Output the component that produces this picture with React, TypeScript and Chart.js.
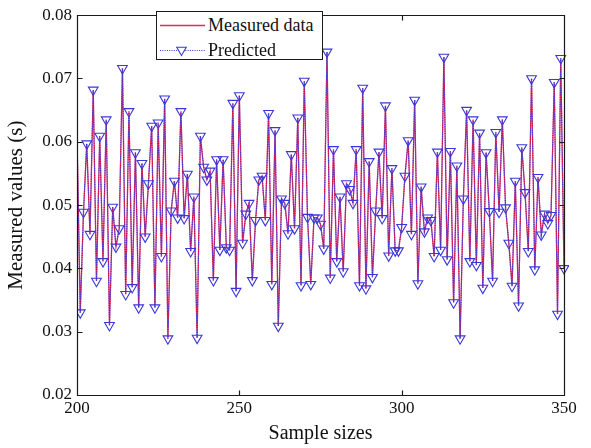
import React, { useEffect, useRef } from "react";
import { Chart, registerables } from "chart.js";

Chart.register(...registerables);

const FONT = "'Liberation Serif', 'Times New Roman', serif";
const RED = "#e02a62";
const BLUE = "#3838d8";

const xTitle = "Sample sizes";
const yTitle = "Measured values (s)";
const seriesLabels = ["Measured data", "Predicted"];

const firstSample = 200;
const xTicks = [200, 250, 300, 350];
const yTicks = [0.02, 0.03, 0.04, 0.05, 0.06, 0.07, 0.08];

// sample 200 .. 351 (351 lies just outside the axes and is clipped)
const measuredValues = [
  0.0611, 0.0330, 0.0489, 0.0597, 0.0454, 0.0682, 0.0380, 0.0609, 0.0411, 0.0635,
  0.0310, 0.0497, 0.0434, 0.0463, 0.0716, 0.0359, 0.0648, 0.0370, 0.0583, 0.0338,
  0.0566, 0.0450, 0.0534, 0.0625, 0.0338, 0.0630, 0.0419, 0.0668, 0.0289, 0.0491,
  0.0538, 0.0480, 0.0648, 0.0479, 0.0549, 0.0427, 0.0513, 0.0290, 0.0609, 0.0560,
  0.0540, 0.0554, 0.0381, 0.0572, 0.0429, 0.0572, 0.0433, 0.0429, 0.0661, 0.0364,
  0.0673, 0.0440, 0.0486, 0.0503, 0.0381, 0.0476, 0.0540, 0.0546, 0.0476, 0.0645,
  0.0375, 0.0618, 0.0309, 0.0510, 0.0503, 0.0455, 0.0580, 0.0463, 0.0638, 0.0373,
  0.0696, 0.0481, 0.0375, 0.0480, 0.0480, 0.0470, 0.0431, 0.0742, 0.0385, 0.0588,
  0.0411, 0.0513, 0.0395, 0.0534, 0.0525, 0.0503, 0.0588, 0.0373, 0.0685, 0.0368,
  0.0569, 0.0386, 0.0491, 0.0584, 0.0479, 0.0657, 0.0420, 0.0558, 0.0428, 0.0428,
  0.0465, 0.0546, 0.0602, 0.0454, 0.0666, 0.0376, 0.0529, 0.0458, 0.0480, 0.0476,
  0.0419, 0.0584, 0.0429, 0.0734, 0.0414, 0.0585, 0.0346, 0.0562, 0.0289, 0.0510,
  0.0650, 0.0411, 0.0635, 0.0405, 0.0614, 0.0369, 0.0583, 0.0490, 0.0380, 0.0615,
  0.0489, 0.0635, 0.0496, 0.0440, 0.0372, 0.0538, 0.0341, 0.0591, 0.0520, 0.0427,
  0.0700, 0.0398, 0.0544, 0.0453, 0.0486, 0.0471, 0.0484, 0.0694, 0.0328, 0.0732,
  0.0400, 0.0490,
];

const predictedValues = [
  0.0611, 0.0330, 0.0489, 0.0597, 0.0454, 0.0682, 0.0380, 0.0609, 0.0411, 0.0635,
  0.0310, 0.0497, 0.0434, 0.0463, 0.0716, 0.0359, 0.0648, 0.0370, 0.0583, 0.0338,
  0.0566, 0.0450, 0.0534, 0.0625, 0.0338, 0.0630, 0.0419, 0.0668, 0.0289, 0.0491,
  0.0538, 0.0480, 0.0648, 0.0479, 0.0549, 0.0427, 0.0513, 0.0290, 0.0609, 0.0560,
  0.0540, 0.0554, 0.0381, 0.0572, 0.0429, 0.0572, 0.0433, 0.0429, 0.0661, 0.0364,
  0.0673, 0.0440, 0.0486, 0.0503, 0.0381, 0.0476, 0.0540, 0.0546, 0.0476, 0.0645,
  0.0375, 0.0618, 0.0309, 0.0510, 0.0503, 0.0455, 0.0580, 0.0463, 0.0638, 0.0373,
  0.0696, 0.0481, 0.0375, 0.0480, 0.0480, 0.0470, 0.0431, 0.0742, 0.0385, 0.0588,
  0.0411, 0.0513, 0.0395, 0.0534, 0.0525, 0.0503, 0.0588, 0.0373, 0.0685, 0.0368,
  0.0569, 0.0386, 0.0491, 0.0584, 0.0479, 0.0657, 0.0420, 0.0558, 0.0428, 0.0428,
  0.0465, 0.0546, 0.0602, 0.0454, 0.0666, 0.0376, 0.0529, 0.0458, 0.0480, 0.0476,
  0.0419, 0.0584, 0.0429, 0.0734, 0.0414, 0.0585, 0.0346, 0.0562, 0.0289, 0.0510,
  0.0650, 0.0411, 0.0635, 0.0405, 0.0614, 0.0369, 0.0583, 0.0490, 0.0380, 0.0615,
  0.0489, 0.0635, 0.0496, 0.0440, 0.0372, 0.0538, 0.0341, 0.0591, 0.0520, 0.0427,
  0.0700, 0.0398, 0.0544, 0.0453, 0.0486, 0.0471, 0.0484, 0.0694, 0.0328, 0.0732,
  0.0400, 0.0490,
];

const toPoints = (vals: number[]) => vals.map((v, i) => ({ x: firstSample + i, y: v }));

const boxPlugin = {
  id: "matlabBox",
  afterDatasetsDraw(chart: any) {
    const { ctx, chartArea, scales } = chart;
    const l = Math.round(chartArea.left) + 0.5;
    const r = Math.round(chartArea.right) + 0.5;
    const t = Math.round(chartArea.top) + 0.5;
    const b = Math.round(chartArea.bottom) + 0.5;
    ctx.save();
    ctx.strokeStyle = "#1a1a1a";
    ctx.lineWidth = 1.2;
    ctx.beginPath();
    ctx.rect(l, t, r - l, b - t);
    const len = 5;
    xTicks.forEach((v) => {
      const px = Math.round(scales.x.getPixelForValue(v)) + 0.5;
      ctx.moveTo(px, b);
      ctx.lineTo(px, b - len);
      ctx.moveTo(px, t);
      ctx.lineTo(px, t + len);
    });
    yTicks.forEach((v) => {
      const py = Math.round(scales.y.getPixelForValue(v)) + 0.5;
      ctx.moveTo(l, py);
      ctx.lineTo(l + len, py);
      ctx.moveTo(r, py);
      ctx.lineTo(r - len, py);
    });
    ctx.stroke();
    ctx.restore();
  },
};

function Legend() {
  const cx = 24.5;
  const cy = 38;
  const rr = 5.5;
  const tri = `${cx},${cy + rr} ${cx - rr * 0.866},${cy - rr / 2} ${cx + rr * 0.866},${cy - rr / 2}`;
  return (
    <div
      style={{
        position: "absolute",
        left: 156,
        top: 11,
        width: 167,
        height: 49,
        boxSizing: "border-box",
        border: "1px solid #1a1a1a",
        background: "#fff",
        fontFamily: FONT,
        fontSize: 18,
        color: "#111",
      }}
    >
      <svg width="50" height="47" style={{ position: "absolute", left: 0, top: 0 }}>
        <line x1="3" y1="13.5" x2="48" y2="13.5" stroke={RED} strokeWidth="1.3" />
        <line x1="3" y1="38.5" x2="48" y2="38.5" stroke={BLUE} strokeWidth="1.2" strokeDasharray="1 1.3" />
        <polygon points={tri} fill="#fff" stroke={BLUE} strokeWidth="1.1" />
      </svg>
      <span style={{ position: "absolute", left: 51, top: 0, lineHeight: "26px", whiteSpace: "nowrap" }}>
        {seriesLabels[0]}
      </span>
      <span style={{ position: "absolute", left: 51, top: 25, lineHeight: "26px", whiteSpace: "nowrap" }}>
        {seriesLabels[1]}
      </span>
    </div>
  );
}

export default function App() {
  const canvasRef = useRef<HTMLCanvasElement | null>(null);

  useEffect(() => {
    if (!canvasRef.current) return;
    const chart = new Chart(canvasRef.current, {
      type: "line",
      data: {
        datasets: [
          {
            label: seriesLabels[1],
            data: toPoints(predictedValues),
            borderColor: BLUE,
            borderWidth: 1.2,
            borderDash: [1, 1.3],
            tension: 0,
            pointStyle: "triangle",
            pointRotation: 180,
            pointRadius: (c: any) => {
              const x = firstSample + c.dataIndex;
              return x <= 200 || x > 350 ? 0 : 5.6;
            },
            pointBorderColor: BLUE,
            pointBackgroundColor: "rgba(255,255,255,0)",
            pointBorderWidth: 1.1,
            order: 1,
            clip: { left: 0, top: 10, right: 5, bottom: 10 },
          },
          {
            label: seriesLabels[0],
            data: toPoints(measuredValues),
            borderColor: RED,
            borderWidth: 1.3,
            tension: 0,
            pointRadius: 0,
            order: 2,
            clip: { left: 0, top: 10, right: 2, bottom: 10 },
          },
        ],
      },
      options: {
        animation: false,
        responsive: true,
        maintainAspectRatio: false,
        layout: { padding: { left: 0, right: 27, top: 11, bottom: 0 } },
        plugins: { legend: { display: false }, tooltip: { enabled: false } },
        scales: {
          x: {
            type: "linear",
            min: 200,
            max: 350,
            grid: { display: false, drawTicks: false },
            border: { display: false },
            afterBuildTicks: (s: any) => {
              s.ticks = xTicks.map((v) => ({ value: v }));
            },
            afterFit: (s: any) => {
              s.height = 53;
            },
            ticks: {
              padding: 3,
              color: "#111",
              font: { family: FONT, size: 17 },
              maxRotation: 0,
              callback: (v: any) => String(v),
            },
            title: {
              display: true,
              text: xTitle,
              color: "#111",
              font: { family: FONT, size: 20 },
              padding: { top: 0, bottom: 2 },
            },
          },
          y: {
            type: "linear",
            min: 0.02,
            max: 0.08,
            grid: { display: false, drawTicks: false },
            border: { display: false },
            afterBuildTicks: (s: any) => {
              s.ticks = yTicks.map((v) => ({ value: v }));
            },
            afterFit: (s: any) => {
              s.width = 77;
            },
            ticks: {
              padding: 5,
              color: "#111",
              font: { family: FONT, size: 17 },
              callback: (v: any) => Number(v).toFixed(2),
            },
            title: {
              display: true,
              text: yTitle,
              color: "#111",
              font: { family: FONT, size: 21 },
              padding: { top: 4, bottom: 0 },
            },
          },
        },
      },
      plugins: [boxPlugin],
    });
    return () => chart.destroy();
  }, []);

  return (
    <div style={{ position: "absolute", left: 0, top: 0, width: 591, height: 448, background: "#fff" }}>
      <canvas ref={canvasRef} />
      <Legend />
    </div>
  );
}
